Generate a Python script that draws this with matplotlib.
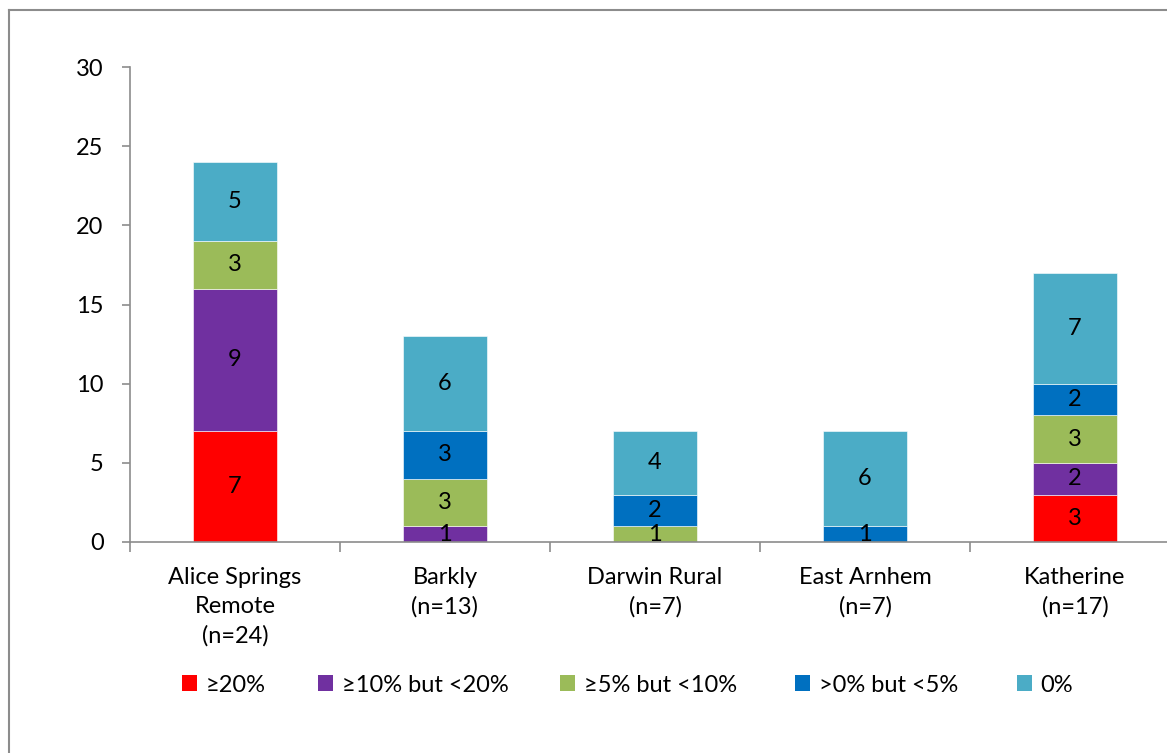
import numpy as np
import matplotlib.pyplot as plt
from matplotlib.patches import Patch
from matplotlib.lines import Line2D

# %% Daten

regions = ['Alice Springs\nRemote\n(n=24)', 'Barkly\n(n=13)', 'Darwin Rural\n(n=7)',
           'East Arnhem\n(n=7)', 'Katherine\n(n=17)']
series = ['≥20%', '≥10% but <20%', '≥5% but <10%', '>0% but <5%', '0%']
ge20 = [7, 0, 0, 0, 3]
ge10 = [9, 1, 0, 0, 2]
ge5 = [3, 3, 1, 0, 3]
gt0 = [0, 3, 2, 1, 2]
zero = [5, 6, 4, 6, 7]
colors = ['#FF0000', '#7030A0', '#9BBB59', '#0070C0', '#4BACC6']

# %% Plot

plt.rcParams['font.family'] = ['Lato', 'DejaVu Sans']
fs = 17
grey = '#8C8C8C'

fig = plt.figure(figsize=(11.67, 7.53), dpi=100)
ax = fig.add_axes([130/1167, 211/753, 1050/1167, 475/753])

x = np.arange(len(regions))
bottom = np.zeros(len(regions))
for vals, col, name in zip([ge20, ge10, ge5, gt0, zero], colors, series):
    vals = np.array(vals, dtype=float)
    bars = ax.bar(x, vals, width=0.4, bottom=bottom, color=col,
                  edgecolor='white', linewidth=0.4, label=name)
    labels = [str(int(v)) if v > 0 else '' for v in vals]
    ax.bar_label(bars, labels=labels, label_type='center', fontsize=fs)
    bottom += vals

ax.set_xlim(-0.5, 4.5)
ax.set_ylim(0, 30)
ax.set_yticks(np.arange(0, 31, 5))
ax.set_xticks(x)
ax.set_xticklabels(regions, linespacing=1.47)
ax.set_xticks(np.arange(-0.5, 5, 1), minor=True)

for side in ['top', 'right']:
    ax.spines[side].set_visible(False)
for side in ['left', 'bottom']:
    ax.spines[side].set_color(grey)
    ax.spines[side].set_linewidth(1.2)
    ax.spines[side].set_clip_on(False)

ax.tick_params(axis='y', length=6, width=1.2, color=grey, pad=13, labelsize=fs)
ax.tick_params(axis='x', which='major', length=0, pad=18, labelsize=fs)
ax.tick_params(axis='x', which='minor', length=7, width=1.2, color=grey)

# Legende, einzelne Eintraege wie im Original
leg_x = [182, 318, 560, 795, 1017]
for name, col, lx in zip(series, colors, leg_x):
    leg = fig.legend(handles=[Patch(facecolor=col, label=name)], loc='center left',
                     bbox_to_anchor=(lx/1167, 1 - 685/753), frameon=False, fontsize=fs,
                     handlelength=0.65, handleheight=0.65, handletextpad=0.35,
                     borderaxespad=0, borderpad=0)

# Rahmen
fig.add_artist(Line2D([9/1167, 9/1167], [0, 1 - 10/753], color=grey, lw=1.5))
fig.add_artist(Line2D([9/1167, 1], [1 - 10/753, 1 - 10/753], color=grey, lw=1.5))

fig.savefig('out.png', dpi=100)
